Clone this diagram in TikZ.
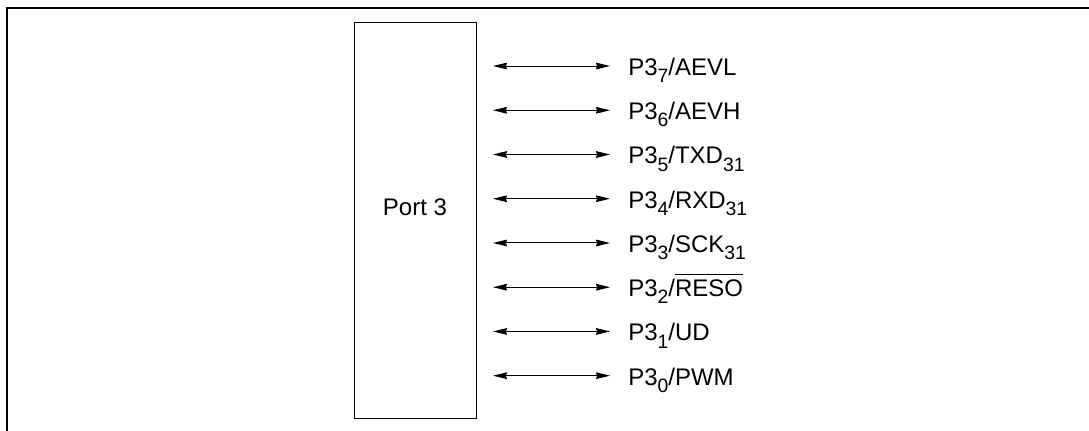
\documentclass[tikz,border=0pt]{standalone}
\usepackage{fontspec}
\setmainfont{Liberation Sans}
\usetikzlibrary{arrows.meta}
\newcommand\psub[1]{\raisebox{-0.3em}{\fontsize{14.5pt}{16pt}\selectfont #1}}
\newcommand\povl[1]{\setbox0=\hbox{#1}\rlap{\rule[\dimexpr\ht0+4pt\relax]{\wd0}{0.6pt}}\box0}
\tikzset{
  frame/.style={line width=1.5pt, line cap=rect},
  portbox/.style={draw, line width=0.75pt, minimum width=122*0.75pt, minimum height=395*0.75pt, inner sep=0pt},
  sig/.style={line width=0.75pt, {Stealth[length=10.5pt,width=5pt,inset=0.8pt]}-{Stealth[length=10.5pt,width=5pt,inset=0.8pt]}},
  lbl/.style={anchor=base west, inner sep=0pt, font=\fontsize{18pt}{21pt}\selectfont},
}
\begin{document}
\begin{tikzpicture}[x=0.75pt,y=-0.75pt]
\useasboundingbox (0,0) rectangle (1089,431);
\coordinate (ftl) at (7,8);
\coordinate (ftr) at (1089,8);
\coordinate (fbl) at (7,431);
\draw[frame] (ftr) -- (ftl) -- (fbl);
\node[portbox] (port) at (415,220.5) {};
\node[anchor=base, inner sep=0pt, font=\fontsize{18pt}{21pt}\selectfont] (porttxt) at (415,215) {Port 3};
\foreach \i/\t in {7/{P3\psub{7}/AEVL},6/{P3\psub{6}/AEVH},5/{P3\psub{5}/TXD\psub{31}},4/{P3\psub{4}/RXD\psub{31}},3/{P3\psub{3}/SCK\psub{31}},2/{P3\psub{2}/\povl{RESO}},1/{P3\psub{1}/UD},0/{P3\psub{0}/PWM}}{
  \pgfmathsetmacro\yy{375.7-44.24*\i}
  \coordinate (l\i) at (493,\yy);
  \coordinate (r\i) at (610,\yy);
  \draw[sig] (l\i) -- (r\i);
  \node[lbl] (t\i) at (628,\yy+9.5) {\t};
}
\end{tikzpicture}
\end{document}
